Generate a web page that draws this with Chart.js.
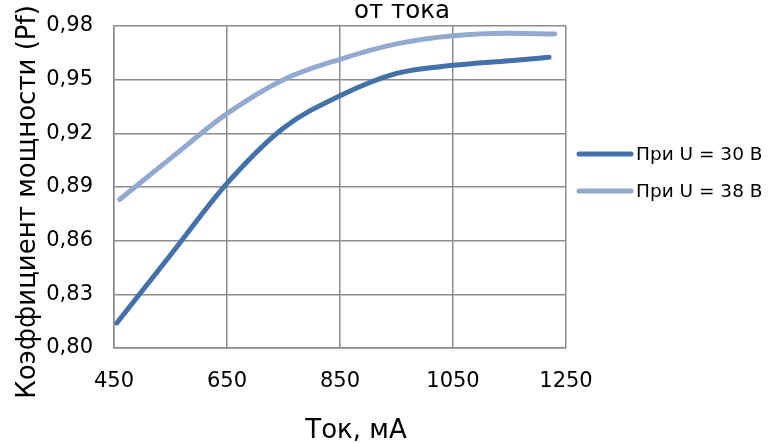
<!DOCTYPE html>
<html>
<head>
<meta charset="utf-8">
<script src="https://cdn.jsdelivr.net/npm/chart.js@4"></script>
<style>
  html, body { margin: 0; padding: 0; background: #fff; }
  canvas { display: block; }
</style>
</head>
<body>
<canvas id="grafico" width="771" height="443"></canvas>
<script>
// datos
const tok30 = [455, 550, 650, 750, 850, 950, 1050, 1150, 1220];
const pf30 = [0.814, 0.852, 0.892, 0.923, 0.941, 0.9535, 0.958, 0.9606, 0.9625];
const tok38 = [460, 550, 650, 750, 850, 950, 1050, 1150, 1230];
const pf38 = [0.883, 0.906, 0.931, 0.950, 0.9614, 0.970, 0.9746, 0.976, 0.9755];
const yTicks = [0.80, 0.83, 0.86, 0.89, 0.92, 0.95, 0.98];

const serie1 = 'При U = 30 В';
const serie2 = 'При U = 38 В';
const titulo = 'от тока';
const tituloX = 'Ток, мА';
const tituloY = 'Коэффициент мощности (Pf)';

const color1 = '#4471a9';
const color2 = '#92a9d0';
const gris = '#8c8c8c';
const fuente = '"DejaVu Sans", Verdana, sans-serif';

const puntos = (xs, ys) => xs.map((x, i) => ({ x: x, y: ys[i] }));

// titulo, titulos de ejes y leyenda
const textos = {
  id: 'textos',
  afterDraw(chart) {
    const ctx = chart.ctx;
    ctx.save();
    ctx.fillStyle = '#000';
    ctx.textAlign = 'center';
    ctx.textBaseline = 'alphabetic';
    ctx.font = '24.5px ' + fuente;
    ctx.fillText(titulo, 402, 18);

    ctx.font = '26px ' + fuente;
    ctx.fillText(tituloX, 356, 438);

    ctx.save();
    ctx.translate(35, 202);
    ctx.rotate(-Math.PI / 2);
    ctx.font = '26px ' + fuente;
    ctx.fillText(tituloY, 0, 0);
    ctx.restore();

    // leyenda
    const items = [[serie1, color1, 154], [serie2, color2, 191]];
    ctx.lineWidth = 5;
    ctx.lineCap = 'round';
    ctx.textAlign = 'left';
    ctx.textBaseline = 'middle';
    ctx.font = '18.5px ' + fuente;
    items.forEach(([txt, col, y]) => {
      ctx.strokeStyle = col;
      ctx.beginPath();
      ctx.moveTo(579, y);
      ctx.lineTo(631, y);
      ctx.stroke();
      ctx.fillStyle = '#000';
      ctx.fillText(txt, 636, y + 1);
    });
    ctx.restore();
  }
};

const grafico = new Chart(document.getElementById('grafico'), {
  type: 'line',
  data: {
    datasets: [
      {
        label: serie1,
        data: puntos(tok30, pf30),
        borderColor: color1,
        borderWidth: 5,
        borderCapStyle: 'round',
        pointRadius: 0,
        cubicInterpolationMode: 'monotone',
      },
      {
        label: serie2,
        data: puntos(tok38, pf38),
        borderColor: color2,
        borderWidth: 5,
        borderCapStyle: 'round',
        pointRadius: 0,
        cubicInterpolationMode: 'monotone',
      }
    ],
  },
  options: {
    responsive: false,
    animation: false,
    layout: {
      padding: { top: 26, right: 205, bottom: 0, left: 0 },
    },
    plugins: {
      legend: { display: false },
      tooltip: { enabled: false },
    },
    scales: {
      x: {
        type: 'linear',
        min: 450,
        max: 1250,
        ticks: {
          stepSize: 200,
          padding: 21,
          color: '#000',
          font: { family: fuente, size: 21 },
          callback: (v) => String(v),
        },
        grid: { color: gris, lineWidth: 1.5, drawTicks: false },
        border: { color: gris, width: 1.5 },
        afterFit: (s) => { s.height = 95; },
      },
      y: {
        min: 0.8,
        max: 0.98,
        afterBuildTicks: (s) => { s.ticks = yTicks.map(v => ({ value: v })); },
        ticks: {
          padding: 21,
          color: '#000',
          font: { family: fuente, size: 21 },
          callback: (v) => v.toFixed(2).replace('.', ','),
        },
        grid: { color: gris, lineWidth: 1.5, drawTicks: false },
        border: { color: gris, width: 1.5 },
        afterFit: (s) => { s.width = 114; s.paddingTop = 0; s.paddingBottom = 0; },
      },
    },
  },
  plugins: [textos],
});
</script>
</body>
</html>
